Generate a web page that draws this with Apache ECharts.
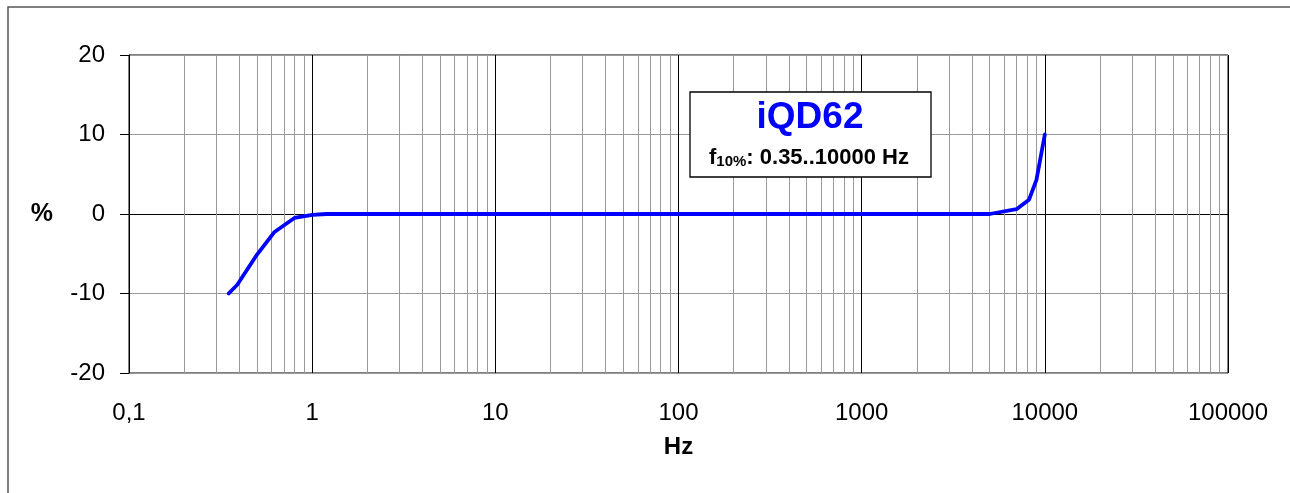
<!DOCTYPE html>
<html>
<head>
<meta charset="utf-8">
<script src="https://cdn.jsdelivr.net/npm/echarts@6/dist/echarts.min.js"></script>
<style>
html,body{margin:0;padding:0;background:#fff;}
#chart{width:1290px;height:493px;}
</style>
</head>
<body>
<div id="chart"></div>
<script>
// Frequency response data (Hz, %)
var freqHz = [0.35, 0.39, 0.5, 0.62, 0.8, 1.0, 1.2, 2, 5, 10, 100, 1000, 5000, 7000, 8200, 9000, 10000];
var deviationPct = [-10, -8.9, -5.1, -2.3, -0.5, -0.1, 0, 0, 0, 0, 0, 0, 0, 0.6, 1.8, 4.3, 10];
var yTicks = [-20, -10, 0, 10, 20];
var decadeLabels = {'0.1': '0,1', '1': '1', '10': '10', '100': '100', '1000': '1000', '10000': '10000', '100000': '100000'};
var minorMultipliers = [2, 3, 4, 5, 6, 7, 8, 9];
var decades = [0.1, 1, 10, 100, 1000, 10000];
var legendTitle = 'iQD62';
var legendSub = ['f', '10%', ': 0.35..10000 Hz'];

var minorLines = [];
decades.forEach(function (d) {
  minorMultipliers.forEach(function (m) {
    minorLines.push({ xAxis: +(d * m).toPrecision(6) });
  });
});

var FONT = 'Liberation Sans, Arial, Helvetica, sans-serif';
var chart = echarts.init(document.getElementById('chart'));
chart.setOption({
  backgroundColor: '#fff',
  animation: false,
  grid: { left: 129, right: 62, top: 55, bottom: 120, show: true, borderColor: '#000', borderWidth: 1, backgroundColor: 'transparent' },
  xAxis: {
    type: 'log', logBase: 10, min: 0.1, max: 100000,
    name: 'Hz', nameLocation: 'middle', nameGap: 62,
    nameTextStyle: { fontFamily: FONT, fontSize: 24, fontWeight: 'bold', color: '#000' },
    axisLine: { show: true, lineStyle: { color: '#000', width: 1 } },
    axisTick: { show: false },
    axisLabel: {
      margin: 28, fontFamily: FONT, fontSize: 24, color: '#000',
      formatter: function (v) {
        var k = Math.round(Math.log10(v));
        var key = String(+Math.pow(10, k).toPrecision(6));
        return decadeLabels[key] !== undefined ? decadeLabels[key] : '';
      }
    },
    splitLine: { show: true, lineStyle: { color: '#000', width: 1 } },
    minorTick: { show: false }, minorSplitLine: { show: false }
  },
  yAxis: {
    type: 'value', min: yTicks[0], max: yTicks[yTicks.length - 1], interval: 10,
    name: '%', nameLocation: 'middle', nameRotate: 0, nameGap: 76,
    nameTextStyle: { fontFamily: FONT, fontSize: 25, fontWeight: 'bold', color: '#000', padding: [6, 0, 0, 0] },
    axisLine: { show: true, lineStyle: { color: '#000', width: 1 } },
    axisTick: { show: true, inside: false, length: 9, lineStyle: { color: '#000' } },
    axisLabel: { margin: 24, fontFamily: FONT, fontSize: 24, color: '#000', padding: [5, 0, 0, 0] },
    splitLine: { show: true, lineStyle: { color: '#999', width: 1 } }
  },
  series: [
    {
      type: 'line', data: [], z: 1, silent: true,
      markLine: {
        silent: true, symbol: 'none', label: { show: false },
        lineStyle: { color: '#999', width: 1, type: 'solid' },
        emphasis: { disabled: true },
        data: minorLines
      }
    },
    {
      type: 'line', z: 5,
      data: freqHz.map(function (f, i) { return [f, deviationPct[i]]; }),
      showSymbol: false, symbol: 'none',
      lineStyle: { color: '#0000FF', width: 3.8, join: 'round', cap: 'round' },
      itemStyle: { color: '#0000FF' }
    }
  ],
  graphic: [
    { type: 'polyline', silent: true, shape: { points: [[8, 493], [8, 7], [1290, 7]] }, style: { stroke: '#555', lineWidth: 1.5, fill: null } },
    { type: 'rect', z: 10, shape: { x: 690, y: 92, width: 241, height: 85 }, style: { fill: '#fff', stroke: '#000', lineWidth: 1.3 } },
    { type: 'text', z: 11, x: 810, y: 118, style: { text: legendTitle, fill: '#0000FF', font: 'bold 37px ' + FONT, align: 'center', verticalAlign: 'middle' } },
    { type: 'text', z: 11, x: 809, y: 157, style: {
        text: '{a|' + legendSub[0] + '}{b|' + legendSub[1] + '}{a|' + legendSub[2] + '}',
        align: 'center', verticalAlign: 'middle',
        rich: {
          a: { fontFamily: FONT, fontSize: 22, fontWeight: 'bold', fill: '#000', verticalAlign: 'bottom', lineHeight: 24 },
          b: { fontFamily: FONT, fontSize: 15, fontWeight: 'bold', fill: '#000', verticalAlign: 'bottom', lineHeight: 14 }
        }
      } }
  ]
});
</script>
</body>
</html>
